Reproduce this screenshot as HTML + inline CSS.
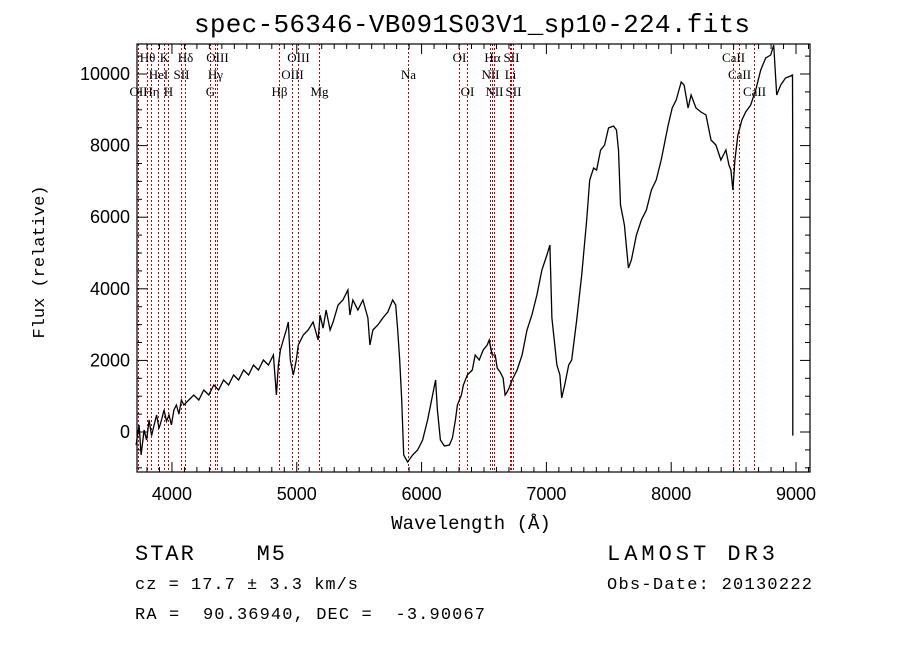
<!DOCTYPE html>
<html><head><meta charset="utf-8"><style>
body{margin:0;background:#fff;width:900px;height:649px;overflow:hidden}
svg{display:block}
.lab{font-family:"Liberation Serif",serif;font-size:13px}
</style></head><body>
<svg id="chart" width="900" height="649" xmlns="http://www.w3.org/2000/svg" font-family="Liberation Sans, sans-serif">
<text x="472" y="32" text-anchor="middle" style="font-family:'Liberation Mono',monospace;font-size:26px" textLength="556">spec-56346-VB091S03V1_sp10-224.fits</text>
<g id="lines"></g>
<g id="spec"></g>
<g id="axes"></g>
<text x="471" y="529" text-anchor="middle" style="font-family:'Liberation Mono',monospace;font-size:19px">Wavelength (Å)</text>
<text transform="translate(44,262) rotate(-90)" text-anchor="middle" style="font-family:'Liberation Mono',monospace;font-size:17px">Flux (relative)</text>
<text x="135" y="560" xml:space="preserve" style="font-family:'Liberation Mono',monospace;font-size:22px" textLength="150">STAR    M5</text>
<text x="135" y="589" style="font-family:'Liberation Mono',monospace;font-size:17px" textLength="223">cz = 17.7 ± 3.3 km/s</text>
<text x="135" y="619" xml:space="preserve" style="font-family:'Liberation Mono',monospace;font-size:17px" textLength="350">RA =  90.36940, DEC =  -3.90067</text>
<text x="607" y="560" style="font-family:'Liberation Mono',monospace;font-size:22px" textLength="168">LAMOST DR3</text>
<text x="607" y="589" style="font-family:'Liberation Mono',monospace;font-size:17px" textLength="205">Obs-Date: 20130222</text>
</svg>
<script>
const wave=[3713,3737,3753,3777,3797,3817,3837,3857,3877,3896,3916,3936,3956,3976,3996,4016,4036,4056,4076,4096,4135,4175,4215,4255,4295,4335,4374,4414,4454,4494,4534,4574,4614,4653,4693,4733,4773,4813,4837,4853,4869,4892,4916,4932,4948,4972,4996,5012,5052,5092,5131,5171,5187,5211,5235,5267,5291,5331,5370,5410,5426,5450,5490,5530,5570,5586,5610,5649,5689,5729,5769,5793,5809,5825,5841,5857,5888,5928,5968,6008,6048,6088,6112,6127,6151,6183,6223,6247,6271,6287,6303,6319,6335,6366,6406,6430,6462,6494,6526,6542,6566,6590,6606,6629,6653,6669,6685,6701,6725,6765,6805,6845,6884,6924,6964,7004,7028,7044,7084,7108,7123,7147,7179,7203,7243,7283,7323,7347,7378,7402,7434,7466,7498,7538,7562,7578,7594,7625,7657,7681,7721,7761,7801,7841,7880,7920,7944,7976,8008,8040,8080,8103,8135,8159,8199,8239,8279,8319,8358,8398,8438,8462,8478,8494,8510,8534,8566,8597,8637,8677,8717,8757,8797,8821,8845,8877,8916,8956,8972,8973,8974];
const flux=[-363,196,-642,56,-223,335,-100,196,475,100,335,614,300,475,200,614,754,500,894,754,894,1033,894,1173,1033,1313,1173,1452,1313,1592,1452,1732,1592,1871,1732,2011,1871,2151,1033,1871,2290,2570,2849,3072,2011,1592,2011,2430,2709,2849,3072,2570,3268,2900,3407,2849,3072,3547,3687,3966,3268,3687,3407,3687,3184,2430,2849,2990,3184,3352,3687,3547,2849,2011,894,-642,-838,-642,-503,-223,335,1033,1452,614,-223,-391,-363,-168,335,754,894,1033,1313,1592,1732,2151,2011,2290,2430,2570,2151,2151,1788,1676,1508,1033,1117,1229,1452,1732,2151,2849,3268,3826,4525,4944,5223,3184,1871,1592,950,1313,1871,2011,3128,4385,5921,7038,7374,7318,7876,8016,8491,8547,8435,7876,6340,5782,4580,4804,5502,5921,6201,6759,7038,7597,8016,8575,9049,9273,9776,9692,9049,9413,9049,8938,8854,8156,8016,7597,7876,7457,7318,6759,7597,8296,8714,8938,9133,9552,10108,10446,10530,10809,9413,9692,9887,9943,9971,8156,-100];
const lineWave=[3727,3798,3835,3889,3934,3969,4072,4102,4304,4341,4363,4861,4959,5007,5175,5893,6300,6363,6548,6563,6583,6707,6716,6731,8498,8542,8662];
const lineLabels=["OII","Hθ","Hη","HeI","K","H","SII","Hδ","G","Hγ","OIII","Hβ","OIII","OIII","Mg","Na","OI","OI","NII","Hα","NII","Li","SII","SII","CaII","CaII","CaII"];
const lineRow=[3,1,3,2,1,3,2,1,3,2,1,3,2,1,3,2,1,3,2,1,3,2,1,3,1,2,3];
const xTicks=[4000,5000,6000,7000,8000,9000];
const yTicks=[0,2000,4000,6000,8000,10000];

const L=137,R=810,T=44,B=472;
const X0=3720,X1=9112,Y0=-1117,Y1=10838;
const xs=w=>L+(w-X0)/(X1-X0)*(R-L);
const ys=f=>B-(f-Y0)/(Y1-Y0)*(B-T);
const NS="http://www.w3.org/2000/svg";
function mk(tag,attrs,parent){const e=document.createElementNS(NS,tag);for(const k in attrs)e.setAttribute(k,attrs[k]);parent.appendChild(e);return e;}
const gl=document.getElementById('lines'),gs=document.getElementById('spec'),ga=document.getElementById('axes');

lineWave.forEach((w,i)=>{
  const x=Math.round(xs(w))+0.5;
  const ln=mk('line',{x1:x,x2:x,y1:T,y2:B,stroke:'#c00000','stroke-width':1,'stroke-dasharray':'2,2'},gl);
  
  
  const t=mk('text',{x:x,y:T+17*lineRow[i]+1,'text-anchor':'middle',class:'lab'},gl);
  t.textContent=lineLabels[i];
  
  
});

let d='';
wave.forEach((w,i)=>{d+=(i?'L':'M')+xs(w).toFixed(1)+','+ys(flux[i]).toFixed(1);});
const p=mk('path',{d:d,fill:'none',stroke:'#000','stroke-width':1.3},gs);



const fr=mk('rect',{x:L,y:T,width:R-L,height:B-T,fill:'none',stroke:'#000','stroke-width':1.2},ga);


for(let w=3800;w<=X1;w+=100){
  const x=xs(w),len=(w%1000===0)?10:5;
  mk('line',{x1:x,x2:x,y1:B,y2:B-len,stroke:'#000'},ga);
  mk('line',{x1:x,x2:x,y1:T,y2:T+len,stroke:'#000'},ga);
}
for(let f=-1000;f<=Y1;f+=500){
  const y=ys(f),len=(f%2000===0)?10:5;
  mk('line',{x1:L,x2:L+len,y1:y,y2:y,stroke:'#000'},ga);
  mk('line',{x1:R,x2:R-len,y1:y,y2:y,stroke:'#000'},ga);
}
xTicks.forEach(v=>{
  const t=mk('text',{x:xs(v),y:B+28,'text-anchor':'middle','font-size':18},ga);
  t.textContent=v;
  
  
});
yTicks.forEach(v=>{
  const t=mk('text',{x:L-7,y:ys(v)+6,'text-anchor':'end','font-size':18},ga);
  t.textContent=v;
  
  
});
</script>
</body></html>
